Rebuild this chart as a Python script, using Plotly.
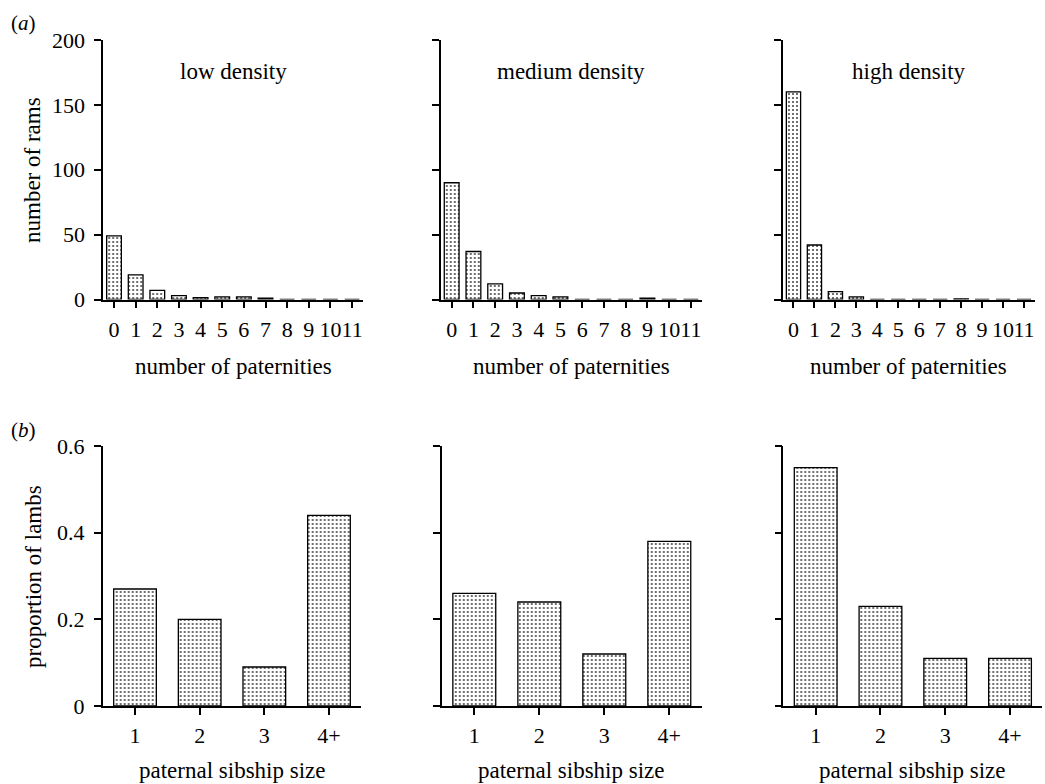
import plotly.graph_objects as go

W, H = 1045, 784

# ---- data ----
paternities = list(range(12))
paternity_labels = [str(i) for i in paternities]
low_rams = [49, 19, 7, 3, 1.5, 2, 2, 1, 0, 0, 0, 0]
medium_rams = [90, 37, 12, 5, 3, 2, 0, 0, 0, 1, 0, 0]
high_rams = [160, 42, 6, 2, 0, 0, 0, 0, 0.5, 0, 0, 0]

sibship = [1, 2, 3, 4]
sibship_labels = ["1", "2", "3", "4+"]
low_lambs = [0.27, 0.20, 0.09, 0.44]
medium_lambs = [0.26, 0.24, 0.12, 0.38]
high_lambs = [0.55, 0.23, 0.11, 0.11]

panel_titles = ["low density", "medium density", "high density"]

FONT = "Liberation Serif"
FS = 23
TFS = 22

def px(x):
    return x / W

def py(y):
    return 1 - y / H

top_x_dom = [(103.2, 362.9), (440.8, 701.8), (783.0, 1034.5)]
bot_x_dom = [(102.7, 361.3), (441.8, 701.8), (783.3, 1042.4)]
top_y_dom = (299.5, 40.0)
bot_y_dom = (706.0, 446.0)

fig = go.Figure()

pattern = dict(shape=".", fgcolor="black", bgcolor="white", size=4, solidity=0.2, fgopacity=0.75)

top_data = [low_rams, medium_rams, high_rams]
bot_data = [low_lambs, medium_lambs, high_lambs]

layout = dict(
    template="none",
    width=W, height=H, autosize=False,
    margin=dict(l=0, r=0, t=0, b=0, pad=0),
    paper_bgcolor="white", plot_bgcolor="white",
    showlegend=False,
    font=dict(family=FONT, size=FS, color="black"),
)

axis_common = dict(
    showline=True, linecolor="black", linewidth=1.5,
    ticks="outside", ticklen=7, tickwidth=1.5, tickcolor="black",
    showgrid=False, zeroline=False, tickangle=0, automargin=False,
    tickfont=dict(family=FONT, size=TFS, color="black"),
)

annotations = []

for i in range(3):
    # top row
    n = i + 1
    xa = "x" if n == 1 else f"x{n}"
    ya = "y" if n == 1 else f"y{n}"
    fig.add_trace(go.Bar(
        x=paternities, y=top_data[i], xaxis=xa, yaxis=ya, width=0.68,
        marker=dict(color="white", line=dict(color="black", width=1.3), pattern=pattern),
        hoverinfo="skip",
    ))
    d = top_x_dom[i]
    layout["xaxis" if n == 1 else f"xaxis{n}"] = dict(
        axis_common, domain=[px(d[0]), px(d[1])], range=[-0.5, 11.5],
        tickvals=paternities, ticktext=paternity_labels, anchor=ya,
        ticklabelstandoff=2,
    )
    layout["yaxis" if n == 1 else f"yaxis{n}"] = dict(
        axis_common, domain=[py(top_y_dom[0]), py(top_y_dom[1])], range=[0, 200],
        tickvals=[0, 50, 100, 150, 200], showticklabels=(i == 0), anchor=xa,
        ticklabelstandoff=5,
    )
    cx = (d[0] + d[1]) / 2
    annotations.append(dict(text=panel_titles[i], x=px(cx), y=py(71), xref="paper", yref="paper",
                            xanchor="center", yanchor="middle", showarrow=False,
                            font=dict(family=FONT, size=FS)))
    annotations.append(dict(text="number of paternities", x=px(cx), y=py(366), xref="paper", yref="paper",
                            xanchor="center", yanchor="middle", showarrow=False,
                            font=dict(family=FONT, size=FS)))

    # bottom row
    m = i + 4
    xa = f"x{m}"
    ya = f"y{m}"
    fig.add_trace(go.Bar(
        x=sibship, y=bot_data[i], xaxis=xa, yaxis=ya, width=0.66,
        marker=dict(color="white", line=dict(color="black", width=1.3), pattern=pattern),
        hoverinfo="skip",
    ))
    d = bot_x_dom[i]
    layout[f"xaxis{m}"] = dict(
        axis_common, domain=[px(d[0]), px(d[1])], range=[0.5, 4.5],
        tickvals=sibship, ticktext=sibship_labels, anchor=ya,
        ticklabelstandoff=2,
    )
    layout[f"yaxis{m}"] = dict(
        axis_common, domain=[py(bot_y_dom[0]), py(bot_y_dom[1])], range=[0, 0.6],
        tickvals=[0, 0.2, 0.4, 0.6], ticktext=["0", "0.2", "0.4", "0.6"],
        showticklabels=(i == 0), anchor=xa, ticklabelstandoff=5,
    )
    cx = (d[0] + d[1]) / 2
    annotations.append(dict(text="paternal sibship size", x=px(cx), y=py(770), xref="paper", yref="paper",
                            xanchor="center", yanchor="middle", showarrow=False,
                            font=dict(family=FONT, size=FS)))

# y titles
annotations.append(dict(text="number of rams", x=px(32), y=py(170), xref="paper", yref="paper",
                        xanchor="center", yanchor="middle", textangle=-90, showarrow=False,
                        font=dict(family=FONT, size=FS)))
annotations.append(dict(text="proportion of lambs", x=px(33), y=py(577), xref="paper", yref="paper",
                        xanchor="center", yanchor="middle", textangle=-90, showarrow=False,
                        font=dict(family=FONT, size=FS)))
# panel letters
annotations.append(dict(text="(<i>a</i>)", x=px(9), y=py(23), xref="paper", yref="paper",
                        xanchor="left", yanchor="middle", showarrow=False,
                        font=dict(family=FONT, size=21)))
annotations.append(dict(text="(<i>b</i>)", x=px(9), y=py(430), xref="paper", yref="paper",
                        xanchor="left", yanchor="middle", showarrow=False,
                        font=dict(family=FONT, size=21)))

layout["annotations"] = annotations
fig.update_layout(**layout)
fig.write_html("out.html")
